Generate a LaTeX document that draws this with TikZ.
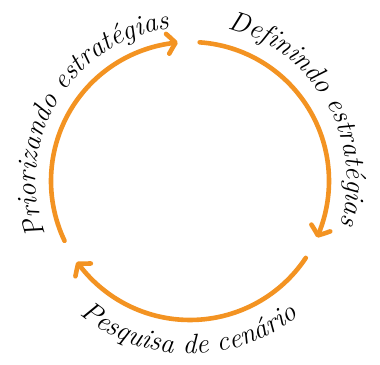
\documentclass[tikz,border=0pt]{standalone}
\usepackage{amsmath}
\usetikzlibrary{arrows.meta,bending,decorations.text}
\definecolor{cycleorange}{RGB}{243,147,34}

\begin{document}
\begin{tikzpicture}[x=1bp,y=1bp,
        cyclearc/.style={cycleorange, line width=4.6bp, line cap=round,
            -{Straight Barb[length=8bp,width=20bp,round,bend]}},
        cyclelabel/.style={decorate, decoration={text along path, text align=center,
            text={|\fontsize{28}{32}\selectfont\itshape|#1}}}]
        \useasboundingbox (0,0) rectangle (380,365);
        \coordinate (c) at (190,184);
        \draw [cyclearc] ([shift={(205.5:139)}]c) arc[start angle=205.5, end angle=95, radius=139];
        \draw [cyclearc] ([shift={(86:139)}]c) arc[start angle=86, end angle=-24, radius=139];
        \draw [cyclearc] ([shift={(-33.6:139)}]c) arc[start angle=-33.6, end angle=-144.5, radius=139];
        \path [cyclelabel={Priorizando estratégias}] ([shift={(199:154)}]c) arc[start angle=199, end angle=99, radius=154];
        \path [cyclelabel={Definindo estratégias}] ([shift={(80:157)}]c) arc[start angle=80, end angle=-20, radius=157];
        \path [cyclelabel={Pesquisa de cenário}] ([shift={(225:173)}]c) arc[start angle=225, end angle=314, radius=173];
\end{tikzpicture}
\end{document}
